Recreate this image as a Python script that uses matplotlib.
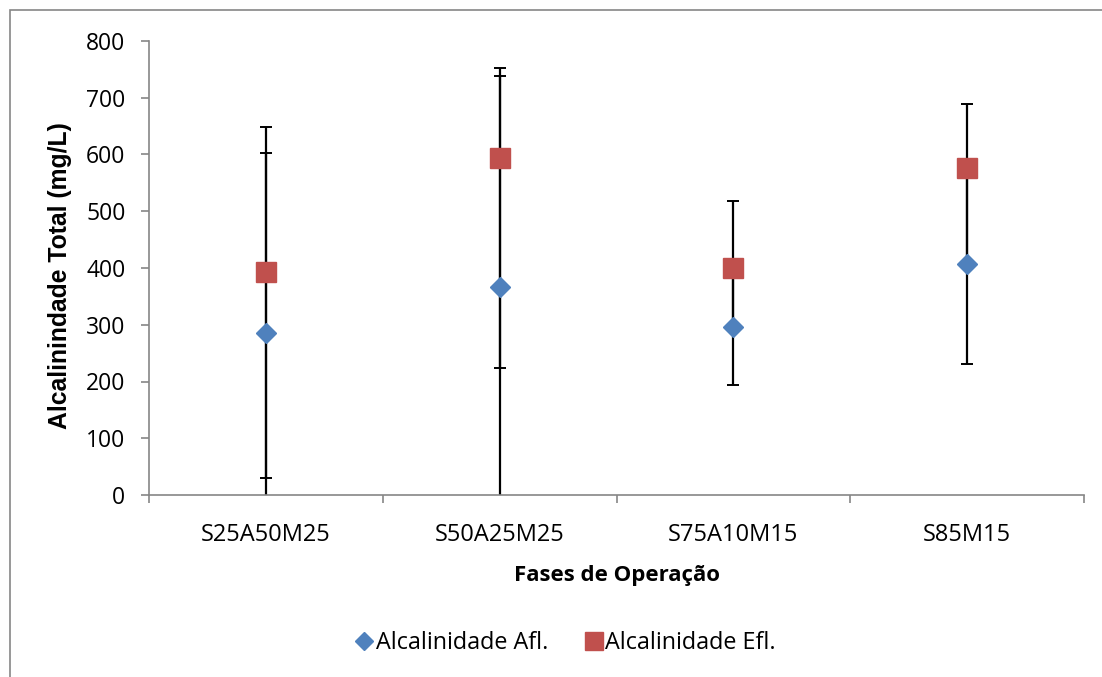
import numpy as np
import matplotlib.pyplot as plt
from matplotlib.patches import Rectangle
from matplotlib.lines import Line2D

# Phases and mean alkalinity (mg/L)
fases = ['S25A50M25', 'S50A25M25', 'S75A10M15', 'S85M15']
afl = [285, 366, 296, 407]
efl = [393, 594, 400, 576]

# error bar extents (minus, plus)
afl_err_minus = [318, 372, 102, 176]
afl_err_plus = [318, 372, 104, 176]
efl_err_minus = [363, 371, 104, 169]
efl_err_plus = [255, 159, 118, 113]

plt.rcParams['font.family'] = ['Open Sans', 'DejaVu Sans']

fig = plt.figure(figsize=(11.02, 6.77), dpi=100)
ax = fig.add_axes([149 / 1102, 1 - 495 / 677, (1084 - 149) / 1102, (495 - 41) / 677])

# outer chart frame
fig.patches.append(Rectangle((10 / 1102, -0.1), 1.2, 1 - 10 / 677 + 0.1,
                             transform=fig.transFigure, fill=False,
                             edgecolor='#868686', linewidth=1.2))

x = np.arange(len(fases)) + 0.5
eb = dict(fmt='none', ecolor='black', elinewidth=1.6, capsize=4.3, capthick=1.4, zorder=2)
ax.errorbar(x, afl, yerr=[afl_err_minus, afl_err_plus], **eb)
ax.errorbar(x, efl, yerr=[efl_err_minus, efl_err_plus], **eb)

ax.plot(x, afl, linestyle='none', marker='D', markersize=10.5, color='#4F81BD',
        markeredgecolor='#4F81BD', zorder=3)
ax.plot(x, efl, linestyle='none', marker='s', markersize=14, color='#C0504D',
        markeredgecolor='#C0504D', zorder=3)

ax.set_xlim(0, len(fases))
ax.set_ylim(0, 800)
ax.set_yticks(np.arange(0, 801, 100))
ax.set_xticks(np.arange(0, len(fases) + 1))
ax.set_xticklabels([])
ax.set_xticks(x, minor=True)
ax.set_xticklabels(fases, minor=True)
ax.tick_params(axis='x', which='minor', length=0, pad=20, labelsize=17)
ax.tick_params(axis='x', which='major', length=6, color='#868686', width=1.2)
ax.tick_params(axis='y', length=6, color='#868686', width=1.2, labelsize=16.5, pad=11)

for side in ['top', 'right']:
    ax.spines[side].set_visible(False)
for side in ['left', 'bottom']:
    ax.spines[side].set_color('#868686')
    ax.spines[side].set_linewidth(1.2)

ax.set_xlabel('Fases de Operação', fontsize=16, fontweight='bold', labelpad=13)
ax.set_ylabel('Alcalinindade Total (mg/L)', fontsize=17.8, fontweight='bold',
              family=['Liberation Sans', 'DejaVu Sans'], va='center')
ax.yaxis.set_label_coords(60 / 1102, 1 - 276 / 677, transform=fig.transFigure)

handles = [
    Line2D([], [], linestyle='none', marker='D', markersize=9.5, color='#4F81BD'),
    Line2D([], [], linestyle='none', marker='s', markersize=12.5, color='#C0504D'),
]
fig.legend(handles, ['Alcalinidade Afl.', 'Alcalinidade Efl.'], loc='center',
           bbox_to_anchor=(566 / 1102, 1 - 643 / 677), ncol=2, frameon=False,
           fontsize=16.8, handlelength=0.7, handletextpad=0.15, columnspacing=1.6)

fig.savefig('out.png', dpi=100)
